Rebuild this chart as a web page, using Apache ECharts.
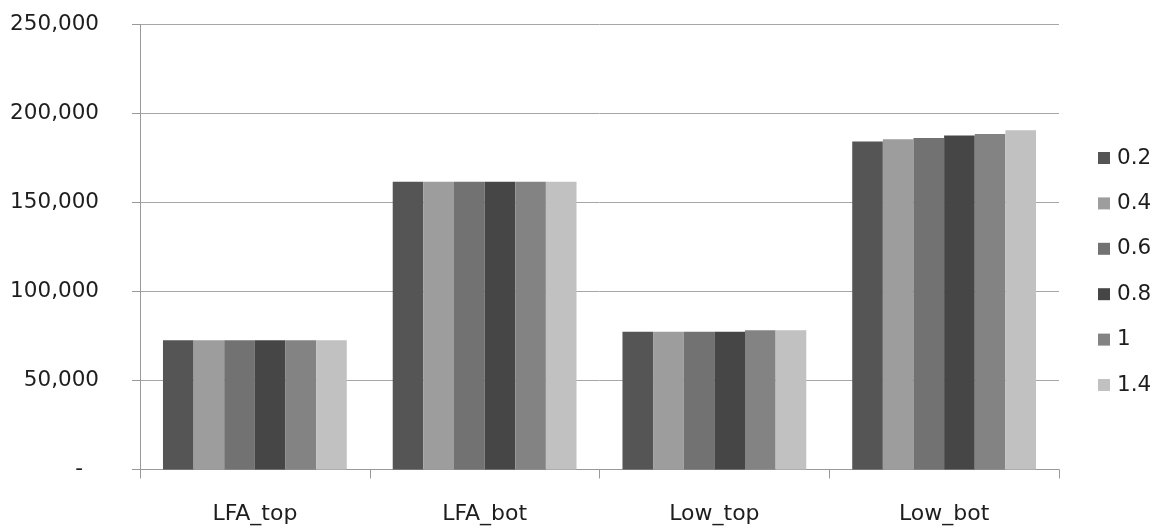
<!DOCTYPE html>
<html>
<head>
<meta charset="utf-8">
<script src="https://cdn.jsdelivr.net/npm/echarts@6/dist/echarts.min.js"></script>
<style>
  html, body { margin: 0; padding: 0; background: #fff; }
  #chart { width: 1157px; height: 526px; }
</style>
</head>
<body>
<div id="chart"></div>
<script>
// Site categories along the x axis
const categories = ['LFA_top', 'LFA_bot', 'Low_top', 'Low_bot'];

// One series per parameter value
const seriesNames = ['0.2', '0.4', '0.6', '0.8', '1', '1.4'];
const values02 = [72600, 161700, 77400, 184200];
const values04 = [72600, 161700, 77400, 185500];
const values06 = [72600, 161700, 77400, 186200];
const values08 = [72600, 161700, 77400, 187700];
const values10 = [72600, 161700, 78300, 188500];
const values14 = [72600, 161700, 78300, 190600];
const seriesValues = [values02, values04, values06, values08, values10, values14];

// Value axis ticks
const yMin = 0;
const yMax = 250000;
const yStep = 50000;

const colors = ['#555555', '#9d9d9d', '#727272', '#464646', '#838383', '#c1c1c1'];
const FONT = '"DejaVu Sans", "Noto Sans", sans-serif';
const TEXT = '#1e1e1e';

const chart = echarts.init(document.getElementById('chart'), null, { renderer: 'canvas' });

chart.setOption({
  animation: false,
  backgroundColor: '#ffffff',
  color: colors,
  grid: { left: 140, right: 98, top: 24.5, bottom: 56.5, containLabel: false },
  legend: {
    orient: 'vertical',
    left: 1098,
    top: 147,
    padding: 0,
    icon: 'rect',
    itemWidth: 12,
    itemHeight: 12,
    itemGap: 23.4,
    data: seriesNames,
    textStyle: { fontFamily: FONT, fontSize: 21.5, color: TEXT, lineHeight: 22, padding: [0, 0, 0, 2] }
  },
  xAxis: {
    type: 'category',
    data: categories,
    axisLine: { show: true, lineStyle: { color: '#999999', width: 1 } },
    axisTick: { show: true, length: 9, alignWithLabel: false, lineStyle: { color: '#999999' } },
    axisLabel: { margin: 34, fontFamily: FONT, fontSize: 22, color: TEXT, lineHeight: 22 },
    splitLine: { show: false }
  },
  yAxis: {
    type: 'value',
    min: yMin,
    max: yMax,
    interval: yStep,
    axisLine: { show: true, lineStyle: { color: '#999999', width: 1 } },
    axisTick: { show: true, length: 8, lineStyle: { color: '#999999' } },
    axisLabel: {
      margin: 41,
      fontFamily: FONT,
      fontSize: 21.5,
      color: TEXT,
      formatter: function (v) {
        if (v === 0) return '{dash|-}';
        return v.toLocaleString('en-US');
      },
      rich: {
        dash: { fontFamily: FONT, fontSize: 21.5, color: TEXT, padding: [0, 16, 0, 0] }
      }
    },
    splitLine: { show: true, lineStyle: { color: '#a6a6a6', width: 1 } }
  },
  series: seriesNames.map(function (name, i) {
    return {
      name: name,
      type: 'bar',
      data: seriesValues[i],
      barGap: '0%',
      barCategoryGap: '20%',
      itemStyle: { color: colors[i] }
    };
  })
});
</script>
</body>
</html>
